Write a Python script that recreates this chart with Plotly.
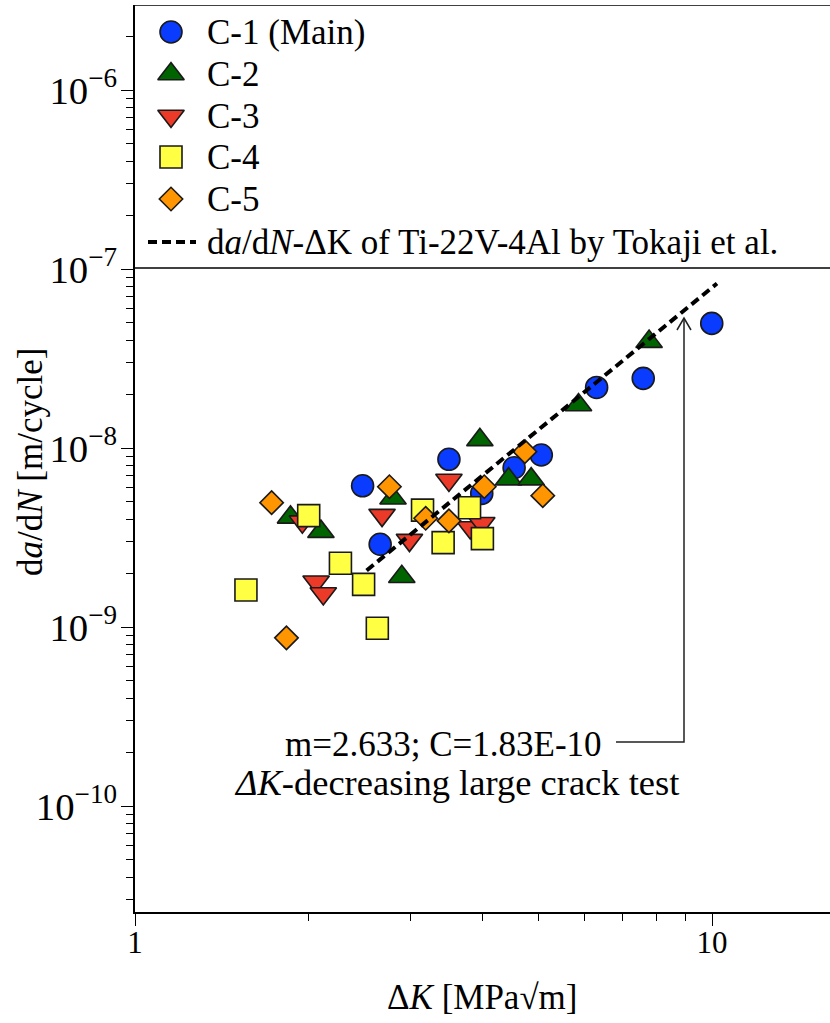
import plotly.graph_objects as go

# ---------------- data ----------------
c1_dk = [2.48, 3.50, 2.66, 3.99, 4.54, 5.06, 6.31, 7.60, 9.99]
c1_dadn = [6.15e-9, 8.65e-9, 2.90e-9, 5.58e-9, 7.76e-9, 9.14e-9, 2.18e-8, 2.45e-8, 4.97e-8]

c2_dk = [1.86, 2.10, 2.80, 3.96, 2.90, 4.44, 4.86, 5.87, 7.78]
c2_dadn = [4.1e-9, 3.41e-9, 5.24e-9, 1.11e-8, 1.91e-9, 6.7e-9, 6.7e-9, 1.74e-8, 3.93e-8]

c3_dk = [1.95, 2.68, 3.50, 2.99, 2.06, 2.12, 3.81, 3.99]
c3_dadn = [3.88e-9, 4.22e-9, 6.63e-9, 3.06e-9, 1.79e-9, 1.54e-9, 3.6e-9, 3.8e-9]

c4_dk = [1.557, 2.00, 2.27, 2.49, 2.63, 3.15, 3.42, 3.80, 4.00]
c4_dadn = [1.61e-9, 4.19e-9, 2.27e-9, 1.73e-9, 9.84e-10, 4.5e-9, 2.96e-9, 4.64e-9, 3.12e-9]

c5_dk = [1.725, 1.83, 2.76, 3.19, 3.50, 4.03, 4.74, 5.09]
c5_dadn = [4.95e-9, 8.7e-10, 6.08e-9, 4.05e-9, 3.92e-9, 6.08e-9, 9.54e-9, 5.42e-9]

# Tokaji et al. reference line (m=2.633, C=1.83E-10), endpoints
ref_dk = [2.52, 10.2]
ref_dadn = [2.07e-9, 8.3e-8]

series_names = ["C-1 (Main)", "C-2", "C-3", "C-4", "C-5"]
line_name = "d<i>a</i>/d<i>N</i>-ΔK of Ti-22V-4Al by Tokaji et al."
fit_text = "m=2.633; C=1.83E-10"
test_text = "<i>ΔK</i>-decreasing large crack test"
x_title = "Δ<i>K</i> [MPa√m]"
y_title = "d<i>a</i>/d<i>N</i> [m/cycle]"

# ---------------- styling ----------------
FONT = "Liberation Serif, Times New Roman, serif"
FS = 35
TICK_FS = 31
W, H = 830, 1023
L, R, T, B = 135, 0, 5, 111
PW, PH = W - L - R, H - T - B
x_range = [0.0, 1.2045]
y_range = [-10.592, -5.525]

styles = [
    dict(symbol="circle", color="#0a3cff", size=22),
    dict(symbol="triangle-up", color="#006400", size=23),
    dict(symbol="triangle-down", color="#ec3a28", size=23),
    dict(symbol="square", color="#ffff44", size=22),
    dict(symbol="diamond", color="#ff9500", size=18),
]
xs = [c1_dk, c2_dk, c3_dk, c4_dk, c5_dk]
ys = [c1_dadn, c2_dadn, c3_dadn, c4_dadn, c5_dadn]

fig = go.Figure()
for name, x, y, st in zip(series_names, xs, ys, styles):
    fig.add_trace(go.Scatter(
        x=x, y=y, mode="markers", name=name, showlegend=False,
        marker=dict(symbol=st["symbol"], color=st["color"], size=st["size"],
                    line=dict(color="#1a1a1a", width=1.6)),
    ))

fig.add_trace(go.Scatter(
    x=ref_dk, y=ref_dadn, mode="lines", name=line_name, showlegend=False,
    line=dict(color="black", width=4, dash="9px,5px"),
))

# ---------- overlay axes in pixel units for legend and annotation decorations ----------
def add_px(xp, yp, **kw):
    fig.add_trace(go.Scatter(x=xp, y=yp, xaxis="x2", yaxis="y2", showlegend=False,
                             hoverinfo="skip", **kw))

def px_to_paper(xp, yp):
    return (xp - L) / PW, (H - B - yp) / PH

# legend box (frame lines)
add_px([L, W], [268, 268], mode="lines", line=dict(color="black", width=1.6))
add_px([L, W], [T, T], mode="lines", line=dict(color="black", width=1.6))

legend_rows = [32, 74, 116, 157, 199, 242]
for name, st, yr in zip(series_names, styles, legend_rows):
    add_px([171], [yr], mode="markers",
           marker=dict(symbol=st["symbol"], color=st["color"], size=st["size"],
                       line=dict(color="#1a1a1a", width=1.6)))
add_px([148, 196], [legend_rows[-1], legend_rows[-1]], mode="lines",
       line=dict(color="black", width=4, dash="9px,5px"))
for text, yr in zip(series_names + [line_name], legend_rows):
    fig.add_annotation(x=205, y=yr, xref="x2", yref="y2", text=text, showarrow=False,
                       xanchor="left", yanchor="middle",
                       font=dict(family=FONT, size=FS, color="black"))

# annotation connector with open arrow head pointing at the reference line
add_px([616, 684, 684], [742, 742, 318], mode="lines",
       line=dict(color="#222222", width=1.5))
add_px([677, 684, 691], [330, 318, 330], mode="lines",
       line=dict(color="#222222", width=1.5))

fig.add_annotation(x=604, y=744, xref="x2", yref="y2", text=fit_text, showarrow=False,
                   xanchor="right", yanchor="middle",
                   font=dict(family=FONT, size=FS, color="black"))
fig.add_annotation(x=456, y=782, xref="x2", yref="y2", text=test_text, showarrow=False,
                   xanchor="center", yanchor="middle",
                   font=dict(family=FONT, size=36.5, color="black"))

# axis titles (paper coordinates, outside the plot area)
xt = px_to_paper(483, 997)
fig.add_annotation(x=xt[0], y=xt[1], xref="paper", yref="paper", text=x_title,
                   showarrow=False, xanchor="center", yanchor="middle",
                   font=dict(family=FONT, size=FS, color="black"))
yt = px_to_paper(30, 462)
fig.add_annotation(x=yt[0], y=yt[1], xref="paper", yref="paper", text=y_title,
                   showarrow=False, xanchor="center", yanchor="middle", textangle=-90,
                   font=dict(family=FONT, size=FS, color="black"))

axis_common = dict(
    type="log", showgrid=False, zeroline=False, showline=True, automargin=False,
    linecolor="black", linewidth=1.6, ticks="outside", ticklen=12, tickwidth=1.4,
    tickcolor="black", dtick=1,
    tickfont=dict(family=FONT, size=TICK_FS, color="black"),
    minor=dict(ticks="outside", ticklen=7, tickwidth=1.2, tickcolor="black",
               dtick="D1", showgrid=False),
)

fig.update_layout(
    width=W, height=H,
    margin=dict(l=L, r=R, t=T, b=B),
    paper_bgcolor="white", plot_bgcolor="white",
    font=dict(family=FONT, size=FS, color="black"),
    xaxis=dict(axis_common, range=x_range, ticklabelstandoff=-10),
    yaxis=dict(axis_common, range=y_range, exponentformat="power", ticklabelstandoff=-2),
    xaxis2=dict(overlaying="x", range=[L, W - R], visible=False, automargin=False),
    yaxis2=dict(overlaying="y", range=[H - B, T], visible=False, automargin=False),
    showlegend=False,
)

fig.write_html("out.html", config={"displayModeBar": False},
               post_script="document.body.style.margin='0px';")
